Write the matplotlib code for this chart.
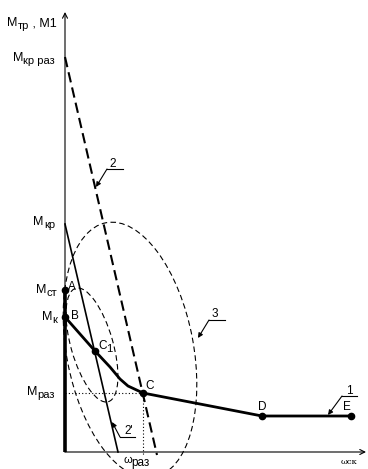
import numpy as np
import matplotlib
matplotlib.use('Agg')
import matplotlib.pyplot as plt
from matplotlib.patches import Ellipse
from matplotlib.transforms import offset_copy

plt.rcParams['font.family'] = ['Liberation Sans', 'DejaVu Sans']

# moment levels on the M axis
m_kr_raz = 39.5
m_kr = 22.8
m_st = 16.2
m_k = 13.5
m_raz = 5.9
w_raz = 7.8

# curve 1 (B - C1 - C - D - E)
curve1_x = [0.0, 3.0, 4.5, 5.5, 6.3, 7.8, 19.7, 28.6]
curve1_y = [13.5, 10.1, 8.5, 7.3, 6.6, 5.9, 3.6, 3.6]

# marked points
pt_names = ['A', 'B', 'C', 'D', 'E']
pt_x = [0.0, 0.0, 7.8, 19.7, 28.6]
pt_y = [16.2, 13.5, 5.9, 3.6, 3.6]
c1_x, c1_y = 3.0, 10.1

# line 2 (dashed) and line 2' (solid)
line2_x = [0.0, 9.2]
line2_y = [39.5, -0.3]
line2p_x = [0.0, 5.3]
line2p_y = [22.8, 0.0]

# ellipses: centre x, centre y, width, height, angle
ell_small = (2.7, 10.7, 4.2, 11.8, 16)
ell_big = (6.5, 10.2, 12.7, 25.9, 10.6)

fig = plt.figure(figsize=(3.68, 4.69), dpi=100)
ax = fig.add_axes([0, 0, 1, 1])
ax.set_xlim(-6.5, 30.3)
ax.set_ylim(-1.7, 45.2)
ax.axis('off')
renderer = fig.canvas.get_renderer()


def multi_text(x, y, parts, ha='left'):
    # parts: (string, fontsize, drop in px) laid out left to right
    widths = []
    for s, fsz, drop in parts:
        t = ax.text(0, 0, s, fontsize=fsz)
        widths.append(t.get_window_extent(renderer).width)
        t.remove()
    total = sum(widths)
    start = {'left': 0, 'right': -total, 'center': -total / 2}[ha]
    for (s, fsz, drop), w in zip(parts, widths):
        tr = offset_copy(ax.transData, fig=fig, x=start, y=-drop, units='dots')
        ax.text(x, y, s, fontsize=fsz, ha='left', va='baseline', transform=tr)
        start += w


# axes with arrows
ax.annotate('', xy=(0, 44.0), xytext=(0, 0),
            arrowprops=dict(arrowstyle='->', lw=0.8, color='k', shrinkA=0, shrinkB=0, mutation_scale=9))
ax.annotate('', xy=(30.1, 0), xytext=(0, 0),
            arrowprops=dict(arrowstyle='->', lw=0.8, color='k', shrinkA=0, shrinkB=0, mutation_scale=9))

# ellipses
for cx, cy, w, h, a in [ell_small, ell_big]:
    ax.add_patch(Ellipse((cx, cy), w, h, angle=a, fill=False, lw=0.8,
                         ls=(0, (5, 3)), ec='k'))

# dotted guides to C
ax.plot([0, w_raz], [m_raz, m_raz], color='k', lw=0.8, ls=(0, (1, 2)))
ax.plot([w_raz, w_raz], [m_raz, -0.4], color='k', lw=0.8, ls=(0, (1, 2)))

# lines 2 and 2'
ax.plot(line2_x, line2_y, color='k', lw=1.5, ls=(0, (5, 2.5)))
ax.plot(line2p_x, line2p_y, color='k', lw=1.2)

# thick segment on the M axis and curve 1
ax.plot([0, 0], [0, m_st], color='k', lw=2.6, solid_capstyle='butt')
ax.plot(curve1_x, curve1_y, color='k', lw=2.0)
ax.plot(pt_x + [c1_x], pt_y + [c1_y], 'o', color='k', ms=4.5)

# point labels
pt_dx = [0.3, 0.6, 0.2, -0.4, -0.8]
pt_dy = [0.0, -0.2, 0.4, 0.6, 0.6]
for name, x, y, dx, dy in zip(pt_names, pt_x, pt_y, pt_dx, pt_dy):
    ax.text(x + dx, y + dy, name, fontsize=8.5, ha='left', va='baseline')
multi_text(c1_x + 0.3, c1_y + 0.2, [('C', 8.5, 0), ('1', 8, 3)])

# axis labels
fs, fss = 9, 8
multi_text(-0.8, 42.6, [('M', fs, 0), ('тр', fss, 3), (' , M1', fs, 0)], ha='right')
multi_text(-1.0, 39.1, [('M', fs, 0), ('кр раз', fss, 3)], ha='right')
multi_text(-1.0, 22.7, [('M', fs, 0), ('кр', fss, 3)], ha='right')
multi_text(-0.8, 15.9, [('M', fs, 0), ('ст', fss, 3)], ha='right')
multi_text(-0.8, 13.2, [('M', fs, 0), ('к', fss, 3)], ha='right')
multi_text(-1.0, 5.7, [('M', fs, 0), ('раз', fss, 3)], ha='right')
multi_text(w_raz - 2.0, -1.1, [('ω', 8, 0), ('раз', 8.5, 3)])
ax.text(28.4, -1.2, 'ωск', fontsize=6, ha='center', va='baseline', family='DejaVu Serif')

# leader callouts: label, text pos, shelf (x0, x1, y), arrow tip
callouts = [
    ('1', (28.4, 5.8), (27.7, 29.2, 5.6), (26.3, 3.7)),
    ('3', (14.95, 13.5), (14.4, 16.0, 13.2), (13.3, 11.4)),
    ('2', (4.8, 28.5), (4.2, 5.8, 28.3), (3.1, 26.5)),
    ("2'", (6.4, 1.8), (5.5, 7.0, 1.5), (4.7, 3.0)),
]
for lab, (tx, ty), (x0, x1, sy), (tip_x, tip_y) in callouts:
    ax.text(tx, ty, lab, fontsize=8.5, ha='center', va='baseline')
    ax.plot([x0, x1], [sy, sy], color='k', lw=0.8)
    ax.annotate('', xy=(tip_x, tip_y), xytext=(x0, sy),
                arrowprops=dict(arrowstyle='-|>', lw=0.8, color='k', shrinkA=0, shrinkB=0,
                                mutation_scale=7))

fig.savefig('out.png', dpi=100)
